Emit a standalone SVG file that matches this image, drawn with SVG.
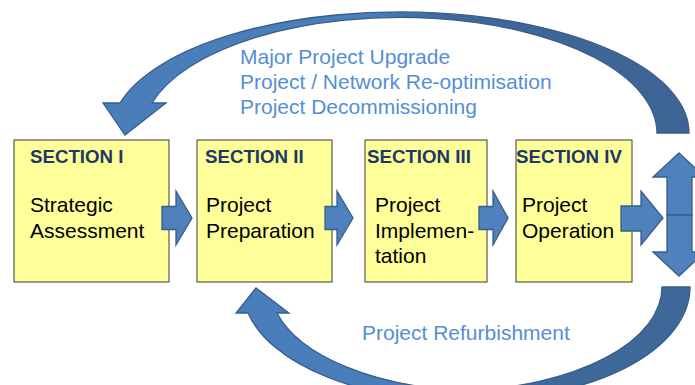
<svg xmlns="http://www.w3.org/2000/svg" width="695" height="385" viewBox="0 0 695 385">
<defs>
<style>
.box{fill:#FFFF99;stroke:#3A3A3A;stroke-width:1}
.hdr{font-family:"Liberation Sans",Arial,sans-serif;font-weight:bold;font-size:18.7px;fill:#203864}
.body{font-family:"Liberation Sans",Arial,sans-serif;font-size:21px;fill:#000000}
.lbl{font-family:"Liberation Sans",Arial,sans-serif;font-size:21px;fill:#558ED5}
.arr{fill:#4F81BD;stroke:#385D8A;stroke-width:1.3}
.arrL{fill:#4A7EBB;stroke:#385D8A;stroke-width:1.3}
.arrD{fill:#3D6899;stroke:#385D8A;stroke-width:1.3}
</style>
<linearGradient id="topGrad" gradientUnits="userSpaceOnUse" x1="100" y1="0" x2="690" y2="0">
<stop offset="0" stop-color="#4A7EBB"/>
<stop offset="0.45" stop-color="#4A7EBB"/>
<stop offset="0.6" stop-color="#3E6899"/>
<stop offset="1" stop-color="#3C6595"/>
</linearGradient>
</defs>
<rect width="695" height="385" fill="#FFFFFF"/>

<g id="box1">
<rect class="box" x="14" y="140" width="155" height="142"/>
<text class="hdr" x="30" y="163">SECTION I</text>
<text class="body" x="30" y="212">Strategic</text>
<text class="body" x="30" y="237.5">Assessment</text>
</g>
<g id="box2">
<rect class="box" x="197" y="140" width="135" height="142"/>
<text class="hdr" x="205" y="163">SECTION II</text>
<text class="body" x="206" y="212">Project</text>
<text class="body" x="206" y="237.5">Preparation</text>
</g>
<g id="box3">
<rect class="box" x="365" y="140" width="122" height="142"/>
<text class="hdr" x="367" y="163">SECTION III</text>
<text class="body" x="375" y="212">Project</text>
<text class="body" x="375" y="237.5">Implemen-</text>
<text class="body" x="375" y="263">tation</text>
</g>
<g id="box4">
<rect class="box" x="516" y="140" width="116" height="142"/>
<text class="hdr" x="516" y="163">SECTION IV</text>
<text class="body" x="522" y="212">Project</text>
<text class="body" x="522" y="237.5">Operation</text>
</g>

<g id="connectors">
<path class="arr" d="M162,206.5 L176,206.5 L176,191 L192,218 L176,245 L176,229.5 L162,229.5 Z"/>
<path class="arr" d="M325,206.5 L337,206.5 L337,191 L353,218 L337,245 L337,229.5 L325,229.5 Z"/>
<path class="arr" d="M479,206.5 L493,206.5 L493,191 L508,218 L493,245 L493,229.5 L479,229.5 Z"/>
<path class="arr" d="M621,206 L641,206 L641,191 L663,218 L641,245 L641,231 L621,231 Z"/>
<path class="arr" d="M679,153 L705,177 L692,177 L692,215 L667,215 L667,177 L653,177 Z"/>
<path class="arr" d="M667,215 L692,215 L692,252 L705,252 L679,276 L653,252 L667,252 Z"/>
<path fill="url(#topGrad)" stroke="#385D8A" stroke-width="1.3" d="M657,133 L689,133 A289,121 0 0 0 120,103 L103,103 L125,135 L166,103 L152,103 A257,116 0 0 1 657,133 Z"/>
<path class="arrD" d="M662,287 L690,287 A209.6,112 0 0 1 466,398.7 L466,390.5 A209.6,103.7 0 0 0 662,287 Z"/>
<path class="arrL" d="M248,313 A209.6,112 0 0 0 466,398.8 L466,390.5 A209.6,103.7 0 0 1 277,313 L289,313 L256,288 L236,313 Z"/>
<text class="lbl" x="240" y="64">Major Project Upgrade</text>
<text class="lbl" x="240" y="89">Project / Network Re-optimisation</text>
<text class="lbl" x="240" y="114">Project Decommissioning</text>
<text class="lbl" x="362" y="340">Project Refurbishment</text>
</g>
</svg>
